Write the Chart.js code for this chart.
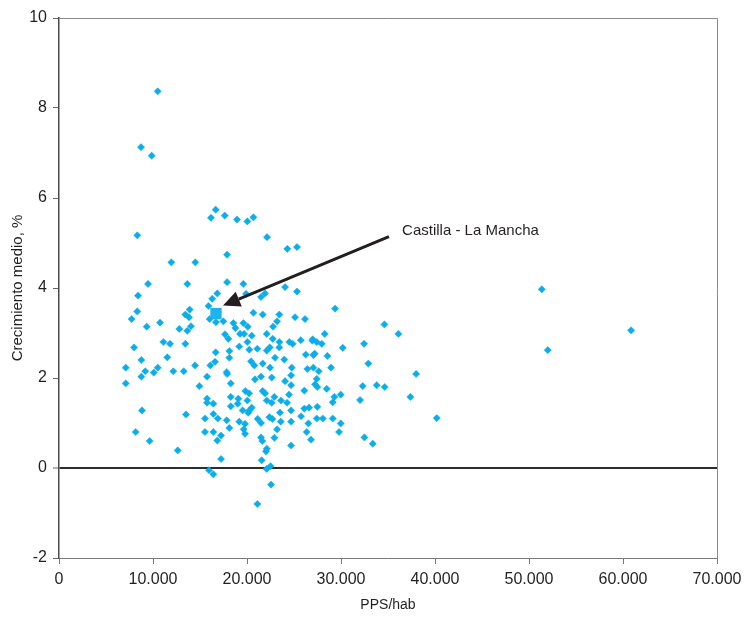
<!DOCTYPE html>
<html>
<head>
<meta charset="utf-8">
<script src="https://cdn.jsdelivr.net/npm/chart.js@4"></script>
<style>
  html, body { margin: 0; padding: 0; background: #fff; }
  #wrap { width: 755px; height: 619px; }
</style>
</head>
<body>
<div id="wrap"><canvas id="scatterChart" width="755" height="619"></canvas></div>
<script>
// Renta por habitante (PPS) y crecimiento medio (%) por región
const ppsHab = [
  10500, 8725, 9860, 16670, 16170, 17630, 18940, 20040, 20680,
  8330, 11950, 9470, 13650, 8405, 8330, 7730, 9330, 10750, 13440, 13900, 13830, 12800, 13650,
  11100, 11810, 13440, 7980, 8760, 11520, 7100, 10500, 9180, 10080, 12160, 13270,
  7100, 8760, 8830, 13510, 8160, 9650, 12630,
  22130, 24290, 25320, 14500, 17880, 17880, 19610, 24050, 25320, 16840, 19900, 21490, 21920,
  15900, 16300, 14040, 16030, 16700, 17480, 20680, 21670, 23440, 23200, 25110, 26170,
  18550, 19610, 18760, 20080, 17660, 19260, 19690, 20500, 22100, 22770, 18010, 20040,
  22740, 23440, 24500, 24860, 25720, 26950, 19180, 20250, 21100, 22100, 22420, 23440,
  26250, 27060, 16670, 18120, 18120, 16600, 20430, 20780, 21670, 22450, 22980, 23970,
  24760, 16100, 14470, 17840, 26420, 27060,
  15750, 14930, 17880, 18270, 20850, 21490, 22630, 24050, 24690, 24690, 26100,
  15750, 15750, 16420, 18270, 19080, 19010, 18270, 19820, 20220, 20040, 21670, 21920,
  22100, 22630, 22910, 23620, 24260, 24470, 19540, 20250, 20500, 20140, 24690, 26100,
  26600, 15530, 16420, 16890, 17840, 19180, 19790, 21140, 21490, 22380, 22700, 23590,
  23510, 24690, 25750, 26530, 15530, 16420, 18120, 19650, 19790, 21490, 21630, 22910,
  23200, 26350, 26810, 24690, 16840, 17240, 22100, 22020, 17240, 21560, 22500, 22100,
  15960, 16420, 22560, 21100,
  29370, 34620, 36100, 28270, 26990, 27420, 27950, 32450, 30190, 27200, 28550, 32910,
  28940, 27630, 37990,
  27420, 27240, 27480, 28480, 32310, 33800, 34650, 29290, 29970, 29120, 32030, 37380,
  27480, 27420, 28060, 29120, 40190, 29970, 29790, 32490, 33380,
  51360, 60860, 52000
];
const crecimiento = [
  8.37, 7.13, 6.94, 5.74, 5.56, 5.61, 5.52, 5.48, 5.57,
  5.17, 4.57, 4.09, 4.09, 3.83, 3.48, 3.31, 3.14, 3.23, 3.41, 3.52, 3.35, 3.09, 3.05,
  2.80, 2.76, 2.76, 2.68, 2.40, 2.46, 2.23, 2.23, 2.15, 2.12, 2.15, 2.15,
  1.88, 2.03, 1.28, 1.19, 0.80, 0.60, 0.39,
  5.13, 4.87, 4.91, 4.57, 4.74, 4.13, 4.09, 4.02, 3.92, 3.88, 3.87, 3.80, 3.88,
  3.60, 3.76, 3.15, 3.31, 3.24, 3.26, 3.45, 3.41, 3.41, 3.26, 3.35, 3.31,
  3.22, 3.22, 3.11, 3.14, 2.97, 2.98, 2.98, 2.94, 2.98, 3.14, 2.87, 2.80,
  2.87, 2.80, 2.80, 2.76, 2.84, 2.83, 2.70, 2.63, 2.65, 2.61, 2.68, 2.68,
  2.52, 2.51, 2.57, 2.60, 2.45, 2.36, 2.37, 2.28, 2.32, 2.23, 2.45, 2.41,
  2.23, 2.28, 2.28, 2.13, 2.20, 2.23,
  2.03, 1.82, 2.09, 1.88, 1.97, 2.03, 2.01, 1.93, 2.06, 1.84, 1.72,
  1.54, 1.45, 1.43, 1.58, 1.54, 1.43, 1.37, 1.71, 1.66, 1.50, 1.71, 1.66,
  1.50, 1.45, 1.58, 1.50, 1.45, 1.63, 1.28, 1.28, 1.34, 1.23, 1.28, 1.32,
  1.34, 1.10, 1.20, 1.10, 1.06, 1.03, 0.98, 1.09, 1.00, 1.13, 1.09, 1.03,
  1.23, 1.03, 1.15, 0.99, 0.80, 0.80, 0.89, 0.86, 0.76, 0.68, 0.60, 0.67,
  0.86, 0.80, 0.63, 0.50, 0.61, 0.72, 0.43, 0.37, 0.20, 0.17, 0.04, -0.02,
  -0.05, -0.14, -0.37, -0.80,
  3.54, 3.19, 2.98, 2.98, 2.86, 2.80, 2.76, 2.76, 2.67, 2.54, 2.49, 2.32,
  2.23, 2.15, 2.09,
  1.98, 1.86, 1.80, 1.76, 1.82, 1.84, 1.80, 1.58, 1.63, 1.46, 1.51, 1.58,
  1.36, 1.10, 1.10, 1.10, 1.11, 0.99, 0.80, 0.68, 0.54,
  3.97, 3.06, 2.62
];

// Región destacada
const castillaPps = [16700];
const castillaCrec = [3.43];
const castillaNombre = 'Castilla - La Mancha';

// Flecha y etiqueta (en unidades de los ejes)
const flechaDesde = [35100, 5.14];
const flechaHasta = [17450, 3.61];
const etiquetaEn = [36500, 5.28];

const xTicks = [0, 10000, 20000, 30000, 40000, 50000, 60000, 70000];
const yTicks = [-2, 0, 2, 4, 6, 8, 10];

const FONT = "'Liberation Sans', Arial, sans-serif";
const AZUL = '#0aaeea';

const puntos = ppsHab.map((x, i) => ({ x: x, y: crecimiento[i] }));
const destacado = castillaPps.map((x, i) => ({ x: x, y: castillaCrec[i] }));

// marco gris arriba y a la derecha
const marco = {
  id: 'marco',
  beforeDatasetsDraw(chart) {
    const { ctx, chartArea: a } = chart;
    ctx.save();
    ctx.strokeStyle = '#8a8a8a';
    ctx.lineWidth = 1;
    ctx.beginPath();
    ctx.moveTo(a.left, a.top + 0.5);
    ctx.lineTo(a.right + 0.5, a.top + 0.5);
    ctx.lineTo(a.right + 0.5, a.bottom);
    ctx.stroke();
    ctx.restore();
  }
};

// flecha hacia la región y su nombre
const flecha = {
  id: 'flecha',
  afterDatasetsDraw(chart) {
    const { ctx, scales } = chart;
    const x0 = scales.x.getPixelForValue(flechaDesde[0]);
    const y0 = scales.y.getPixelForValue(flechaDesde[1]);
    const x1 = scales.x.getPixelForValue(flechaHasta[0]);
    const y1 = scales.y.getPixelForValue(flechaHasta[1]);
    const ang = Math.atan2(y1 - y0, x1 - x0);
    const largo = 17, ancho = 8;
    const bx = x1 - largo * Math.cos(ang);
    const by = y1 - largo * Math.sin(ang);
    ctx.save();
    ctx.strokeStyle = '#231f20';
    ctx.fillStyle = '#231f20';
    ctx.lineWidth = 3;
    ctx.beginPath();
    ctx.moveTo(x0, y0);
    ctx.lineTo(bx, by);
    ctx.stroke();
    ctx.beginPath();
    ctx.moveTo(x1, y1);
    ctx.lineTo(bx + ancho * Math.sin(ang), by - ancho * Math.cos(ang));
    ctx.lineTo(bx - ancho * Math.sin(ang), by + ancho * Math.cos(ang));
    ctx.closePath();
    ctx.fill();

    ctx.font = '15px ' + FONT;
    ctx.fillStyle = '#231f20';
    ctx.textAlign = 'left';
    ctx.textBaseline = 'middle';
    ctx.fillText(castillaNombre,
      scales.x.getPixelForValue(etiquetaEn[0]),
      scales.y.getPixelForValue(etiquetaEn[1]));
    ctx.restore();
  }
};

const ctx = document.getElementById('scatterChart').getContext('2d');
const chart = new Chart(ctx, {
  type: 'scatter',
  data: {
    datasets: [
      {
        label: castillaNombre,
        data: destacado,
        pointStyle: 'rect',
        pointRadius: 8,
        backgroundColor: '#1cb4ec',
        borderColor: '#1cb4ec',
        borderWidth: 0,
        order: 0
      },
      {
        label: 'Regiones',
        data: puntos,
        pointStyle: 'rectRot',
        pointRadius: 3.6,
        backgroundColor: AZUL,
        borderColor: AZUL,
        borderWidth: 0.5,
        order: 1
      }
    ]
  },
  options: {
    responsive: false,
    animation: false,
    events: [],
    layout: { padding: { left: 0, top: 18, right: 38, bottom: 0 } },
    plugins: {
      legend: { display: false },
      tooltip: { enabled: false }
    },
    scales: {
      x: {
        type: 'linear',
        min: 0,
        max: 70000,
        afterFit: (s) => { s.height = 61; },
        afterBuildTicks: (s) => { s.ticks = xTicks.map(v => ({ value: v })); },
        ticks: {
          padding: 6,
          color: '#231f20',
          font: { family: FONT, size: 16 },
          maxRotation: 0,
          callback: (v) => v === 0 ? '0' : v.toLocaleString('de-DE')
        },
        grid: {
          drawOnChartArea: false,
          drawTicks: true,
          tickLength: 6,
          color: '#777'
        },
        border: { display: true, color: '#7a7a7a', width: 1 },
        title: {
          display: true,
          text: 'PPS/hab',
          color: '#231f20',
          font: { family: FONT, size: 14 },
          padding: { top: 0, bottom: 5 }
        }
      },
      y: {
        type: 'linear',
        min: -2,
        max: 10,
        afterFit: (s) => { s.width = 59; },
        afterBuildTicks: (s) => { s.ticks = yTicks.map(v => ({ value: v })); },
        ticks: {
          padding: 6,
          color: '#231f20',
          font: { family: FONT, size: 16 }
        },
        grid: {
          drawOnChartArea: true,
          drawTicks: true,
          tickLength: 6,
          color: (c) => c.tick && c.tick.value === 0 ? '#2d2d2d' : 'rgba(0,0,0,0)',
          lineWidth: (c) => c.tick && c.tick.value === 0 ? 2 : 1,
          tickColor: '#666',
          tickWidth: 1
        },
        border: { display: true, color: '#4a4a4a', width: 1.5 },
        title: {
          display: true,
          text: 'Crecimiento medio, %',
          color: '#231f20',
          font: { family: FONT, size: 15 },
          padding: { top: 9, bottom: 0 }
        }
      }
    }
  },
  plugins: [marco, flecha]
});
</script>
</body>
</html>
